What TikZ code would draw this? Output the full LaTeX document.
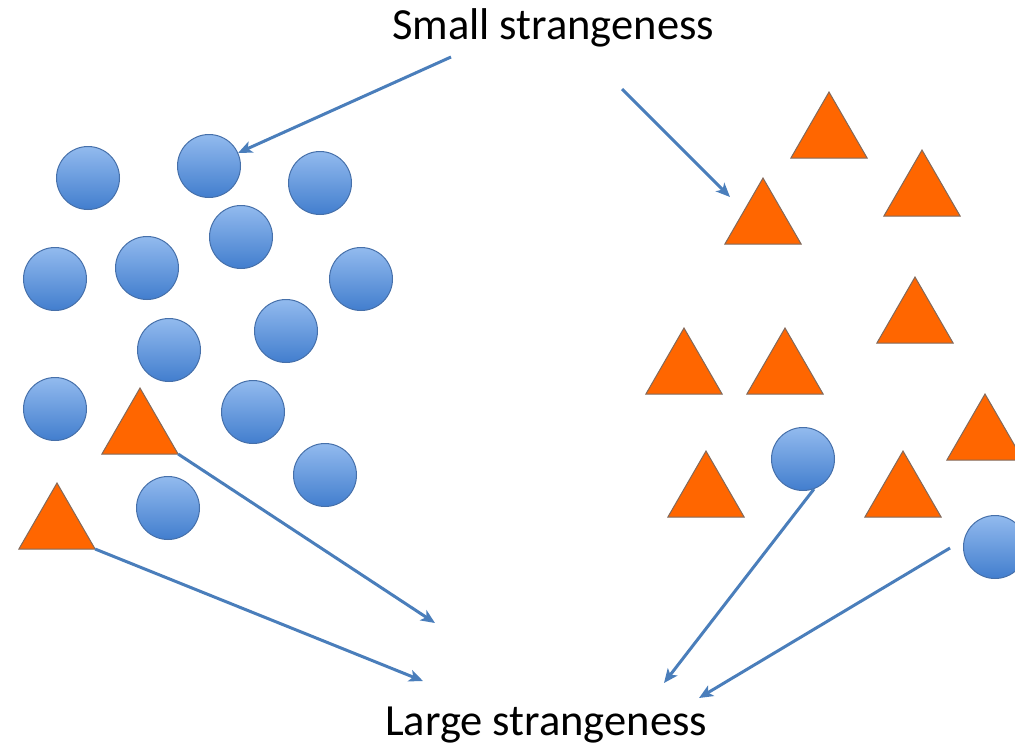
\documentclass[tikz,border=0pt]{standalone}
\usepackage{fontspec}
\setmainfont{Carlito}
\usetikzlibrary{shapes.geometric,arrows.meta}
\definecolor{arrowblue}{RGB}{74,126,187}
\definecolor{ctop}{RGB}{146,186,238}
\definecolor{cbot}{RGB}{66,126,206}
\definecolor{cline}{RGB}{70,112,170}
\definecolor{tfill}{RGB}{255,102,0}
\definecolor{tline}{RGB}{130,105,90}
\tikzset{
  ball/.style={circle, minimum size=63pt, inner sep=0pt, draw=cline, line width=1pt, top color=ctop, bottom color=cbot},
  tri/.style={regular polygon, regular polygon sides=3, minimum size=88pt, inner sep=0pt, outer sep=0pt, draw=tline, line width=1pt, fill=tfill},
  arr/.style={draw=arrowblue, line width=3pt, -{Stealth[length=14pt,width=12pt,inset=3.5pt]}},
  lbl/.style={font=\fontsize{44.5}{52}\selectfont, text=black, anchor=base, inner sep=0pt}
}
\begin{document}
\begin{tikzpicture}[x=1pt,y=-1pt]
\useasboundingbox (0,0) rectangle (1015,750);
\clip (0,0) rectangle (1015,750);
% labels
\node[lbl] (small) at (553,39) {Small strangeness};
\node[lbl] (large) at (546,735) {Large strangeness};
% circles left
\node[ball] (c1) at (88,178) {};
\node[ball] (c2) at (209,166) {};
\node[ball] (c3) at (320,183) {};
\node[ball] (c4) at (241,237) {};
\node[ball] (c5) at (55,279) {};
\node[ball] (c6) at (147,268) {};
\node[ball] (c7) at (361,279) {};
\node[ball] (c8) at (286,331) {};
\node[ball] (c9) at (169,350) {};
\node[ball] (c10) at (55,409) {};
\node[ball] (c11) at (253,412) {};
\node[ball] (c12) at (325,475) {};
\node[ball] (c13) at (168,508) {};
% circles right
\node[ball] (c14) at (803,459) {};
\node[ball] (c15) at (995,547) {};
% triangles
\node[tri] (t1) at (140,432) {};
\node[tri] (t2) at (57,527) {};
\node[tri] (t3) at (829,136) {};
\node[tri] (t4) at (922,194) {};
\node[tri] (t5) at (763,222) {};
\node[tri] (t6) at (915,321) {};
\node[tri] (t7) at (684,372) {};
\node[tri] (t8) at (785,372) {};
\node[tri] (t9) at (985,438) {};
\node[tri] (t10) at (706,495) {};
\node[tri] (t11) at (903,495) {};
% free ends
\coordinate (s1) at (451,57);
\coordinate (s2) at (622,89);
\coordinate (e2) at (730,197);
\coordinate (e3) at (435,623);
\coordinate (e4) at (423,681);
\coordinate (e5) at (664,683);
\coordinate (s6) at (950,548);
\coordinate (e6) at (699,698);
% arrows
\draw[arr] (s1) -- (c2);
\draw[arr] (s2) -- (e2);
\draw[arr] (t1.corner 3) -- (e3);
\draw[arr] (t2.corner 3) -- (e4);
\draw[arr] (c14.-70) -- (e5);
\draw[arr] (s6) -- (e6);
\end{tikzpicture}
\end{document}
